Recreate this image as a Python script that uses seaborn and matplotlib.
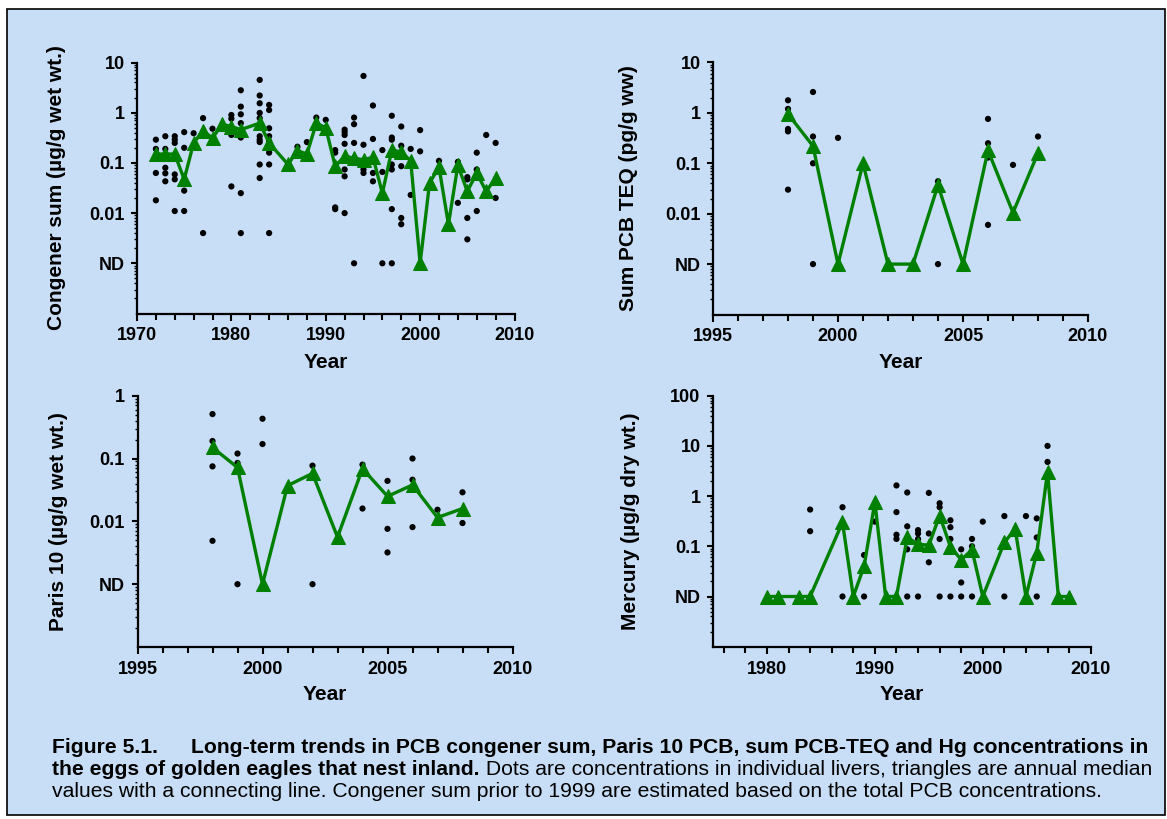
import numpy as np
import pandas as pd
import matplotlib
matplotlib.use("Agg")
import matplotlib.pyplot as plt
import matplotlib.ticker as mticker
from matplotlib.patches import Rectangle
import seaborn as sns

# ---------------- DATA ----------------
ND_LOW = 0.001   # "ND" level for PCB panels
ND_HG = 0.01     # "ND" level for mercury panel

# Congener sum (ug/g wet wt.) - individual eggs
cong_dot_years = (
    [1972]*4 + [1973]*5 + [1974]*6 + [1975]*4 + [1976] + [1977]*2 + [1978] +
    [1980]*4 + [1981]*7 + [1983]*10 + [1984]*8 + [1987] + [1988] + [1989] + [1990] +
    [1991]*4 + [1992]*7 + [1993]*4 + [1994]*4 + [1995]*4 + [1996]*3 + [1997]*7 +
    [1998]*5 + [1999]*2 + [2000]*2 + [2002] + [2004]*2 + [2005]*4 + [2006]*3 +
    [2007] + [2008]*2
)
cong_dot_values = [
    0.29, 0.19, 0.063, 0.018,
    0.34, 0.19, 0.08, 0.062, 0.043,
    0.34, 0.29, 0.25, 0.059, 0.047, 0.011,
    0.41, 0.20, 0.028, 0.011,
    0.39,
    0.78, 0.004,
    0.48,
    0.90, 0.76, 0.36, 0.034,
    2.8, 1.32, 0.93, 0.62, 0.32, 0.025, 0.004,
    4.5, 2.2, 1.54, 0.99, 0.78, 0.34, 0.29, 0.26, 0.093, 0.05,
    1.43, 1.13, 0.49, 0.34, 0.27, 0.16, 0.093, 0.004,
    0.21,
    0.26,
    0.80,
    0.72,
    0.18, 0.16, 0.013, 0.012,
    0.46, 0.41, 0.36, 0.24, 0.074, 0.054, 0.010,
    0.80, 0.59, 0.25, ND_LOW,
    5.4, 0.23, 0.074, 0.063,
    1.39, 0.30, 0.063, 0.043,
    0.18, 0.066, ND_LOW,
    0.87, 0.32, 0.29, 0.093, 0.074, 0.012, ND_LOW,
    0.53, 0.22, 0.086, 0.008, 0.006,
    0.19, 0.023,
    0.45, 0.17,
    0.11,
    0.105, 0.016,
    0.052, 0.047, 0.008, 0.003,
    0.16, 0.074, 0.011,
    0.36,
    0.25, 0.02,
]
cong_med_years = [1972, 1973, 1974, 1975, 1976, 1977, 1978, 1979, 1980, 1981, 1983, 1984,
                  1986, 1987, 1988, 1989, 1990, 1991, 1992, 1993, 1994, 1995, 1996, 1997,
                  1998, 1999, 2000, 2001, 2002, 2003, 2004, 2005, 2006, 2007, 2008]
cong_med_values = [0.15, 0.15, 0.15, 0.047, 0.25, 0.44, 0.31, 0.59, 0.53, 0.46, 0.62, 0.25,
                   0.093, 0.175, 0.15, 0.62, 0.50, 0.086, 0.135, 0.125, 0.115, 0.13, 0.025, 0.18,
                   0.165, 0.11, ND_LOW, 0.04, 0.082, 0.006, 0.09, 0.027, 0.063, 0.027, 0.05]

# Sum PCB TEQ (pg/g ww)
teq_dot_years = [1998]*5 + [1999]*4 + [2000] + [2004]*2 + [2006]*4 + [2007] + [2008]
teq_dot_values = [1.78, 1.2, 0.48, 0.43, 0.03,
                  2.6, 0.34, 0.10, ND_LOW,
                  0.32,
                  0.044, ND_LOW,
                  0.76, 0.25, 0.13, 0.006,
                  0.093,
                  0.34]
teq_med_years = [1998, 1999, 2000, 2001, 2002, 2003, 2004, 2005, 2006, 2007, 2008]
teq_med_values = [0.95, 0.22, ND_LOW, 0.10, ND_LOW, ND_LOW, 0.037, ND_LOW, 0.18, 0.0105, 0.16]

# Paris 10 (ug/g wet wt.)
p10_dot_years = [1998]*4 + [1999]*3 + [2000]*2 + [2002]*2 + [2004]*2 + [2005]*3 + \
                [2006]*4 + [2007] + [2008]*2
p10_dot_values = [0.51, 0.19, 0.075, 0.0049,
                  0.12, 0.085, ND_LOW,
                  0.43, 0.17,
                  0.077, ND_LOW,
                  0.08, 0.016,
                  0.044, 0.0076, 0.0032,
                  0.10, 0.046, 0.032, 0.0081,
                  0.0153,
                  0.029, 0.0094]
p10_med_years = [1998, 1999, 2000, 2001, 2002, 2003, 2004, 2005, 2006, 2007, 2008]
p10_med_values = [0.15, 0.072, ND_LOW, 0.037, 0.058, 0.0056, 0.069, 0.025, 0.038, 0.0115, 0.016]

# Mercury (ug/g dry wt.)
hg_dot_years = [1984]*2 + [1987]*2 + [1989]*2 + [1990] + [1992]*4 + [1993]*4 + [1994]*4 + \
               [1995]*4 + [1996]*4 + [1997]*4 + [1998]*3 + [1999]*3 + [2000] + [2002]*2 + \
               [2004] + [2005]*3 + [2006]*2
hg_dot_values = [0.54, 0.20,
                 0.60, ND_HG,
                 0.067, ND_HG,
                 0.31,
                 1.63, 0.48, 0.17, 0.14,
                 1.18, 0.25, 0.087, ND_HG,
                 0.21, 0.18, 0.14, ND_HG,
                 1.16, 0.18, 0.085, 0.048,
                 0.72, 0.60, 0.14, ND_HG,
                 0.33, 0.24, 0.14, ND_HG,
                 0.087, 0.019, ND_HG,
                 0.14, 0.10, ND_HG,
                 0.31,
                 0.40, ND_HG,
                 0.40,
                 0.36, 0.15, ND_HG,
                 10.0, 4.8]
hg_med_years = [1980, 1981, 1983, 1984, 1987, 1988, 1989, 1990, 1991, 1992, 1993, 1994,
                1995, 1996, 1997, 1998, 1999, 2000, 2002, 2003, 2004, 2005, 2006, 2007, 2008]
hg_med_values = [ND_HG, ND_HG, ND_HG, ND_HG, 0.30, ND_HG, 0.04, 0.76, ND_HG, ND_HG, 0.15, 0.11,
                 0.105, 0.41, 0.098, 0.054, 0.085, ND_HG, 0.12, 0.22, ND_HG, 0.074, 3.0, ND_HG, ND_HG]

# Axis texts
pcb_tick_values = [10, 1, 0.1, 0.01, ND_LOW]
pcb_tick_labels = ["10", "1", "0.1", "0.01", "ND"]
p10_tick_values = [1, 0.1, 0.01, ND_LOW]
p10_tick_labels = ["1", "0.1", "0.01", "ND"]
hg_tick_values = [100, 10, 1, 0.1, ND_HG]
hg_tick_labels = ["100", "10", "1", "0.1", "ND"]

caption_line1a = "Figure 5.1."
caption_line1b = "Long-term trends in PCB congener sum, Paris 10 PCB, sum PCB-TEQ and Hg concentrations in"
caption_line2a = "the eggs of golden eagles that nest inland."
caption_line2b = " Dots are concentrations in individual livers, triangles are annual median"
caption_line3 = ("values with a connecting line. Congener sum prior to 1999 are estimated based "
                 "on the total PCB concentrations.")

# ---------------- STYLE ----------------
sns.set_style("ticks")
plt.rcParams["font.family"] = ["Liberation Sans", "DejaVu Sans"]
plt.rcParams["font.weight"] = "bold"
for key in ["text.color", "axes.labelcolor", "xtick.color", "ytick.color",
            "xtick.labelcolor", "ytick.labelcolor"]:
    plt.rcParams[key] = "black"

BG = "#C8DDF6"
GREEN = "#008000"
W, H = 1167, 819

fig = plt.figure(figsize=(W / 100, H / 100), dpi=100)
fig.patch.set_facecolor("white")
fig.patches.append(Rectangle((7 / W, 1 - 815 / H), (1165 - 7) / W, (815 - 9) / H,
                             transform=fig.transFigure, facecolor=BG, edgecolor="black",
                             linewidth=1.2, zorder=-10))


def px_axes(left, top, right, bottom):
    return fig.add_axes([left / W, 1 - bottom / H, (right - left) / W, (bottom - top) / H])


def draw_panel(ax, dyears, dvals, myears, mvals, xlim, xmajor, xminor, ylim, ytv, ytl,
               ylabel, ylab_x, xlab_y):
    ax.set_facecolor("none")
    sns.scatterplot(x=dyears, y=dvals, ax=ax, color="black", s=20, edgecolor="none",
                    zorder=2, legend=False)
    sns.lineplot(x=myears, y=mvals, ax=ax, color=GREEN, linewidth=2.4, marker="^",
                 markersize=10, markeredgecolor=GREEN, markerfacecolor=GREEN, zorder=3,
                 legend=False)
    ax.set_yscale("log")
    ax.set_xlim(*xlim)
    ax.set_ylim(*ylim)
    ax.set_yticks(ytv)
    ax.set_yticklabels(ytl)
    ax.yaxis.set_minor_locator(mticker.LogLocator(base=10, subs=np.arange(2, 10), numticks=20))
    ax.yaxis.set_minor_formatter(mticker.NullFormatter())
    ax.xaxis.set_major_locator(mticker.MultipleLocator(xmajor))
    ax.xaxis.set_minor_locator(mticker.MultipleLocator(xminor))
    for sp in ["top", "right"]:
        ax.spines[sp].set_visible(False)
    for sp in ["left", "bottom"]:
        ax.spines[sp].set_linewidth(1.6)
        ax.spines[sp].set_color("black")
    ax.tick_params(axis="x", which="major", length=5, width=1.5, labelsize=13, pad=5,
                   colors="black")
    ax.tick_params(axis="x", which="minor", length=4, width=1.5, colors="black")
    ax.tick_params(axis="y", which="major", length=4, width=1.5, labelsize=13, pad=5,
                   colors="black")
    ax.tick_params(axis="y", which="minor", length=2.2, width=1.0, colors="black")
    for lab in ax.get_xticklabels() + ax.get_yticklabels():
        lab.set_fontweight("bold")
    ax.set_xlabel("Year", fontsize=15, fontweight="bold", color="black")
    ax.set_ylabel(ylabel, fontsize=15, fontweight="bold", color="black")
    ax.xaxis.set_label_coords(0.5, xlab_y)
    ax.xaxis.label.set_verticalalignment("center")
    ax.yaxis.set_label_coords(ylab_x, 0.5)
    ax.yaxis.label.set_verticalalignment("center")


ax1 = px_axes(137, 62.5, 514.5, 313.5)
draw_panel(ax1, cong_dot_years, cong_dot_values, cong_med_years, cong_med_values,
           (1970, 2010), 10, 2, (1e-4, 10), pcb_tick_values, pcb_tick_labels,
           "Congener sum (µg/g wet wt.)", (57 - 137) / 377.5, -(362 - 313.5) / 251)

ax2 = px_axes(713, 62.5, 1088, 314.5)
draw_panel(ax2, teq_dot_years, teq_dot_values, teq_med_years, teq_med_values,
           (1995, 2010), 5, 1, (1e-4, 10), pcb_tick_values, pcb_tick_labels,
           "Sum PCB TEQ (pg/g ww)", (628 - 713) / 375, -(362 - 314.5) / 252)

ax3 = px_axes(137.5, 395.7, 512.5, 647)
draw_panel(ax3, p10_dot_years, p10_dot_values, p10_med_years, p10_med_values,
           (1995, 2010), 5, 1, (1e-4, 1), p10_tick_values, p10_tick_labels,
           "Paris 10 (µg/g wet wt.)", (58 - 137.5) / 375, -(695 - 647) / 251.3)

ax4 = px_axes(713, 395.7, 1090.7, 646.7)
draw_panel(ax4, hg_dot_years, hg_dot_values, hg_med_years, hg_med_values,
           (1975, 2010), 10, 2, (1e-3, 100), hg_tick_values, hg_tick_labels,
           "Mercury (µg/g dry wt.)", (630 - 713) / 377.7, -(694 - 646.7) / 251)

# ---------------- CAPTION ----------------
cap_fs = 15.2
y1, y2, y3 = 1 - 753 / H, 1 - 775 / H, 1 - 797 / H
fig.text(52 / W, y1, caption_line1a, fontsize=cap_fs, fontweight="bold", va="baseline",
         ha="left")
fig.text(191 / W, y1, caption_line1b, fontsize=cap_fs, fontweight="bold", va="baseline",
         ha="left")
t2a = fig.text(52 / W, y2, caption_line2a, fontsize=cap_fs, fontweight="bold", va="baseline",
               ha="left")
fig.canvas.draw()
bb = t2a.get_window_extent(renderer=fig.canvas.get_renderer())
x_end = fig.transFigure.inverted().transform((bb.x1, bb.y0))[0]
fig.text(x_end, y2, caption_line2b, fontsize=cap_fs, fontweight="normal", va="baseline",
         ha="left")
fig.text(52 / W, y3, caption_line3, fontsize=cap_fs, fontweight="normal", va="baseline",
         ha="left")

fig.savefig("out.png", dpi=100, facecolor="white")
